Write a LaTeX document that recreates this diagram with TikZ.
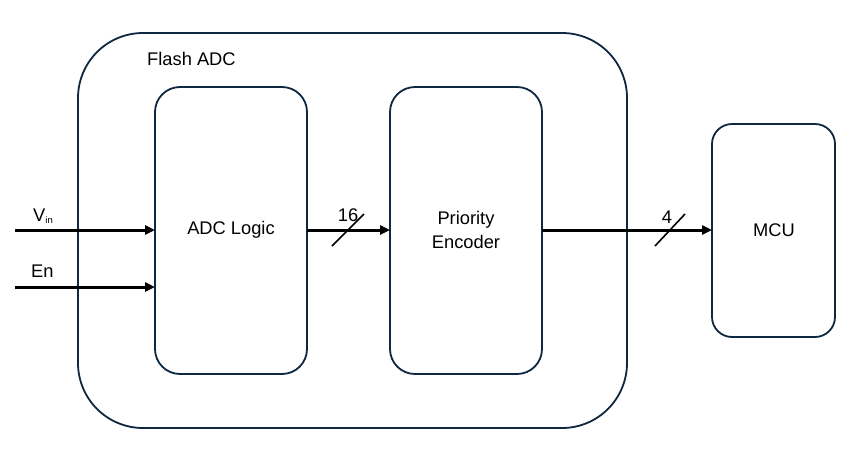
\documentclass[tikz,border=0pt]{standalone}
\usepackage{fontspec}
\setmainfont{Liberation Sans}
\usetikzlibrary{arrows.meta,calc}
\definecolor{edge}{HTML}{0E2841}
\tikzset{
  blk/.style={draw=edge, line width=1.8pt, rounded corners=#1, inner sep=0pt},
  sig/.style={line width=3pt, -{Triangle[length=10pt,width=9pt]}},
  bus/.style={line width=1.6pt},
  lbl/.style={font=\fontsize{18.3}{24.5}\selectfont, align=center, inner sep=0pt}
}
\begin{document}
\begin{tikzpicture}[x=1pt,y=-1pt]
\useasboundingbox[fill=white] (0,0) rectangle (849,461);
\draw[blk=65pt] (78,33) rectangle (627,428);
\node[lbl, anchor=west] (title) at (147,59) {Flash ADC};
\draw[blk=25pt] (155,87) rectangle (307,374);
\draw[blk=25pt] (390,87) rectangle (542,374);
\draw[blk=20pt] (712,124) rectangle (835,337);
\coordinate (adcW) at (155,230);
\coordinate (adcW2) at (155,287);
\coordinate (adcE) at (307,230);
\coordinate (peW) at (390,230);
\coordinate (peE) at (542,230);
\coordinate (mcuW) at (712,230);
\coordinate (vinS) at (15,230);
\coordinate (enS) at (15,287);
\node[lbl] (adc) at (231,230) {ADC Logic};
\node[lbl] (pe) at (466,230) {Priority\\Encoder};
\node[lbl] (mcu) at (774,230) {MCU};
\node[lbl, anchor=base west] (vin) at (33,221) {V\textsubscript{\fontsize{9.5}{10}\selectfont in}};
\node[lbl, anchor=base west] (en) at (31,277) {En};
\draw[sig] (vinS) -- (adcW);
\draw[sig] (enS) -- (adcW2);
\draw[sig] (adcE) -- (peW);
\draw[sig] (peE) -- (mcuW);
\coordinate (s1) at (348,230);
\coordinate (s2) at (670,230);
\draw[bus] ($(s1)+(-16,16)$) -- ($(s1)+(16,-16)$);
\draw[bus] ($(s2)+(-15,16)$) -- ($(s2)+(15,-16)$);
\node[lbl, anchor=base] (n16) at (348,221) {16};
\node[lbl, anchor=base] (n4) at (667,223) {4};
\end{tikzpicture}
\end{document}
